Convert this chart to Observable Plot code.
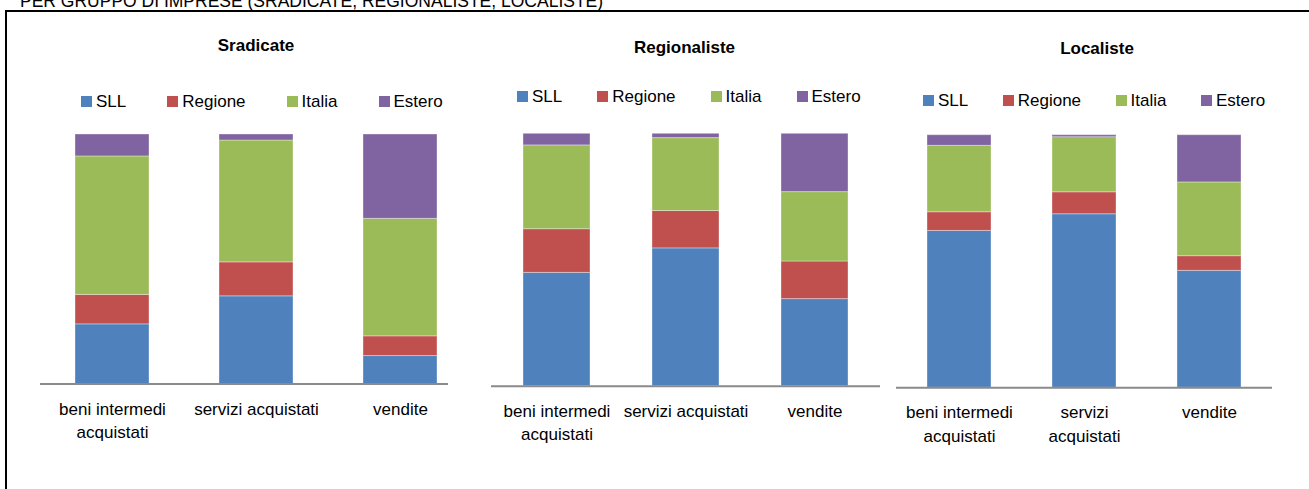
<!DOCTYPE html>
<html><head><meta charset="utf-8">
<script src="https://cdn.jsdelivr.net/npm/d3@7"></script>
<script src="https://cdn.jsdelivr.net/npm/@observablehq/plot@0.6"></script>
<style>
html,body{margin:0;padding:0;background:#fff;}
body{width:1309px;height:489px;overflow:hidden;font-family:"Liberation Sans",Arial,sans-serif;color:#000;}
#root{position:relative;width:1309px;height:489px;overflow:hidden;}
.abs{position:absolute;}
.frame{left:5px;top:10px;width:1400px;height:600px;border:2px solid #000;box-sizing:border-box;}
.heading{left:20px;top:-7px;font-size:17.5px;line-height:17px;white-space:nowrap;}
.title{font-weight:bold;font-size:17px;white-space:nowrap;transform:translate(-50%,-50%);}
.legend{display:flex;align-items:center;transform:translateY(-50%);font-size:17px;white-space:nowrap;}
.item{display:flex;align-items:center;}
.sw{display:inline-block;width:11px;height:11px;margin-right:4px;}
.plot{top:0;}
</style></head>
<body><div id="root"></div>
<script>
// ---- data ----
const heading = "PER GRUPPO DI IMPRESE (SRADICATE, REGIONALISTE, LOCALISTE)";
const categories = ["beni intermedi acquistati", "servizi acquistati", "vendite"];
const series = ["SLL", "Regione", "Italia", "Estero"];
const seriesColors = ["#4F81BD", "#C0504D", "#9BBB59", "#8064A2"];
const panelTitles = ["Sradicate", "Regionaliste", "Localiste"];
// rows = categories, columns = series (SLL, Regione, Italia, Estero), percent
const sradicateValues = [
  [23.9, 11.8, 55.5, 8.8],
  [35.1, 13.6, 48.8, 2.4],
  [11.2, 7.9, 47.1, 33.8]
];
const regionalisteValues = [
  [44.9, 17.3, 33.2, 4.6],
  [54.6, 14.8, 28.9, 1.7],
  [34.5, 14.9, 27.5, 23.1]
];
const localisteValues = [
  [62.1, 7.4, 26.3, 4.2],
  [68.7, 8.7, 21.8, 0.8],
  [46.3, 5.8, 29.2, 18.7]
];
const tickLabelsA = ["beni intermedi\nacquistati", "servizi acquistati", "vendite"];
const tickLabelsB = ["beni intermedi\nacquistati", "servizi\nacquistati", "vendite"];

// ---- layout ----
const panels = [
  {values: sradicateValues, labels: tickLabelsA, left: 0, width: 470, mL: 40, mR: 22, top: 134, bottom: 383.5,
   pi: 0.488, po: 0.156, align: 0.76, tx: 256, ty: 46, lx: 81, ly: 101.7, gap: 41},
  {values: regionalisteValues, labels: tickLabelsA, left: 470, width: 420, mL: 21, mR: 10, top: 133.3, bottom: 385.7,
   pi: 0.483, po: 0.241, align: 0.5, tx: 684.5, ty: 47.5, lx: 517, ly: 96.5, gap: 35},
  {values: localisteValues, labels: tickLabelsB, left: 890, width: 419, mL: 6, mR: 37, top: 134.7, bottom: 387.3,
   pi: 0.487, po: 0.236, align: 0.5, tx: 1097, ty: 48.5, lx: 923, ly: 100.5, gap: 34.5}
];

const root = document.getElementById("root");
const H = 489;

function el(cls, text) {
  const d = document.createElement("div");
  d.className = cls;
  if (text != null) d.textContent = text;
  return d;
}

const frame = el("abs frame"); root.appendChild(frame);
const head = el("abs heading", heading); root.appendChild(head);

panels.forEach((p, k) => {
  const rows = [];
  categories.forEach((c, i) => series.forEach((s, j) => rows.push({cat: c, series: s, value: p.values[i][j]})));
  const labelOf = new Map(categories.map((c, i) => [c, p.labels[i]]));
  const chart = Plot.plot({
    width: p.width,
    height: H,
    marginLeft: p.mL,
    marginRight: p.mR,
    marginTop: p.top,
    marginBottom: H - p.bottom,
    style: {fontFamily: "'Liberation Sans', Arial, sans-serif", color: "#000", background: "transparent", overflow: "visible"},
    x: {domain: categories, paddingInner: p.pi, paddingOuter: p.po, align: p.align, label: null},
    y: {domain: [0, 1], axis: null},
    color: {domain: series, range: seriesColors},
    marks: [
      Plot.barY(rows, Plot.stackY({x: "cat", y: "value", fill: "series", order: null, offset: "normalize",
        stroke: "#fff", strokeOpacity: 0.35, strokeWidth: 1})),
      Plot.ruleY([0], {stroke: "#8a8a8a", strokeWidth: 2}),
      Plot.axisX({tickSize: 0, tickPadding: 14, fontSize: 17, lineHeight: 1.38, label: null,
        tickFormat: d => labelOf.get(d)})
    ]
  });
  chart.classList.add("abs", "plot");
  chart.style.left = p.left + "px";
  chart.style.top = "0px";
  root.appendChild(chart);

  const t = el("abs title", panelTitles[k]);
  t.style.left = p.tx + "px"; t.style.top = p.ty + "px";
  root.appendChild(t);

  const lg = el("abs legend");
  lg.style.left = p.lx + "px"; lg.style.top = p.ly + "px"; lg.style.gap = p.gap + "px";
  series.forEach((s, j) => {
    const it = el("item");
    const sw = document.createElement("span");
    sw.className = "sw"; sw.style.background = seriesColors[j];
    it.appendChild(sw);
    const tx = document.createElement("span"); tx.textContent = s;
    it.appendChild(tx);
    lg.appendChild(it);
  });
  root.appendChild(lg);
});
</script>
</body></html>
